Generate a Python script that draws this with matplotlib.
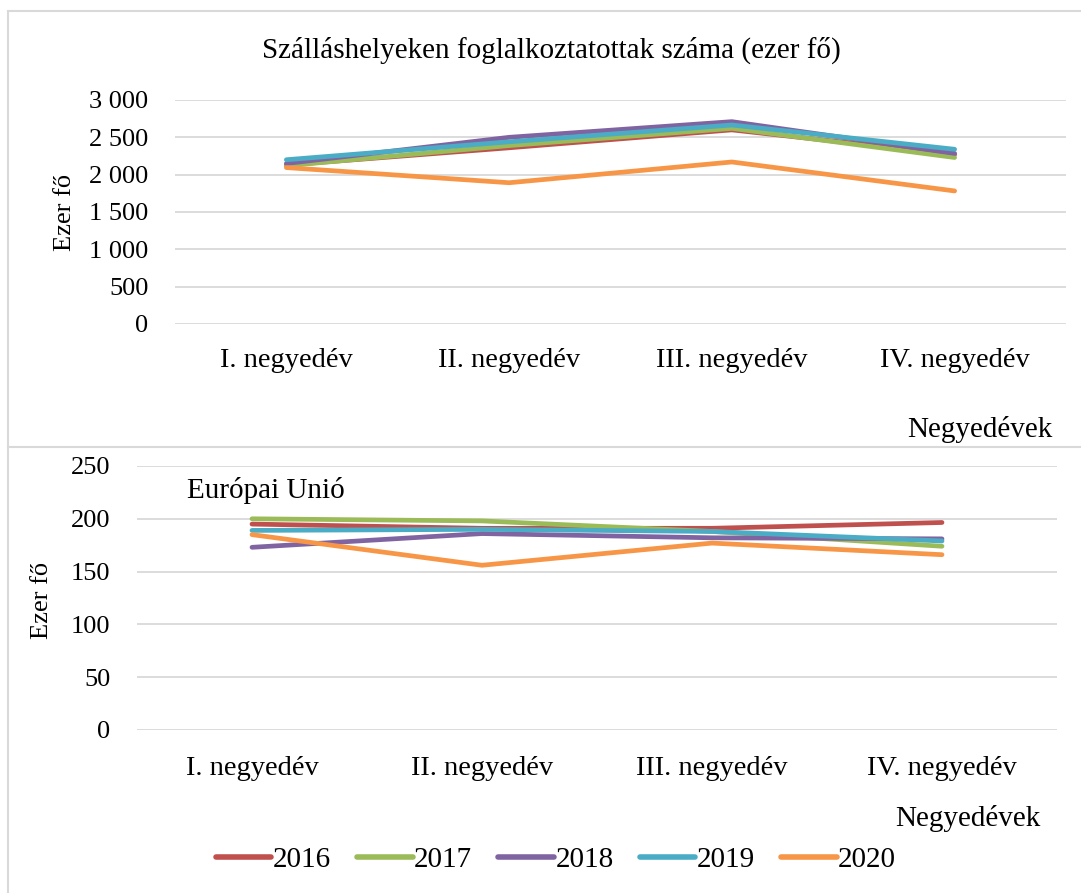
import matplotlib.pyplot as plt
from matplotlib.lines import Line2D
from matplotlib.ticker import FuncFormatter

plt.rcParams["font.family"] = ["Liberation Serif", "DejaVu Serif"]

negyedevek = ["I. negyedév", "II. negyedév", "III. negyedév", "IV. negyedév"]
evek = ["2016", "2017", "2018", "2019", "2020"]
szinek = ["#C0504D", "#9BBB59", "#8064A2", "#4BACC6", "#F79646"]

# Magyarország, ezer fő
hu_2016 = [2130, 2360, 2600, 2270]
hu_2017 = [2120, 2390, 2620, 2230]
hu_2018 = [2150, 2500, 2710, 2285]
hu_2019 = [2200, 2440, 2665, 2340]
hu_2020 = [2095, 1892, 2170, 1782]

# Európai Unió, ezer fő
eu_2016 = [195, 191, 191, 196.5]
eu_2017 = [200, 198, 188, 174]
eu_2018 = [173, 186, 182, 181]
eu_2019 = [189, 190, 188, 179]
eu_2020 = [185, 156, 177, 166]

hu = [hu_2016, hu_2017, hu_2018, hu_2019, hu_2020]
eu = [eu_2016, eu_2017, eu_2018, eu_2019, eu_2020]

racs = "#D9D9D9"
W, H = 1081, 893

fig = plt.figure(figsize=(W / 100, H / 100), dpi=100)

# keretek
fig.add_artist(Line2D([8 / W, 1], [1 - 11 / H, 1 - 11 / H], color=racs, lw=1.5))
fig.add_artist(Line2D([8 / W, 8 / W], [0, 1 - 11 / H], color=racs, lw=1.5))
fig.add_artist(Line2D([8 / W, 1], [1 - 447 / H, 1 - 447 / H], color=racs, lw=1.5))


def tengely(ax, adatok, ymax, lepes, xpad):
    x = range(len(negyedevek))
    for ertekek, szin, ev in zip(adatok, szinek, evek):
        ax.plot(x, ertekek, color=szin, lw=3.4, solid_capstyle="round", label=ev)
    ax.set_xlim(-0.5, len(negyedevek) - 0.5)
    ax.set_ylim(0, ymax)
    ax.set_yticks(range(0, ymax + 1, lepes))
    ax.yaxis.set_major_formatter(FuncFormatter(lambda v, p: f"{int(v):,}".replace(",", " ")))
    ax.set_xticks(list(x))
    ax.set_xticklabels(negyedevek)
    ax.grid(axis="y", color=racs, lw=1.3)
    ax.set_axisbelow(True)
    for s in ax.spines.values():
        s.set_visible(False)
    ax.tick_params(axis="y", length=0, pad=19, labelsize=19)
    ax.tick_params(axis="x", length=0, pad=xpad, labelsize=20.5)


ax1 = fig.add_axes([175 / W, 1 - 324 / H, 891 / W, 224 / H])
tengely(ax1, hu, 3000, 500, 17)
fig.text(551 / W, 1 - 50 / H, "Szálláshelyeken foglalkoztatottak száma (ezer fő)",
         ha="center", va="center", fontsize=21)
fig.text(65 / W, 1 - 212 / H, "Ezer fő", rotation=90, ha="center", va="center", fontsize=19)
fig.text(980 / W, 1 - 430 / H, "Negyedévek", ha="center", va="center", fontsize=21)

ax2 = fig.add_axes([137 / W, 1 - 730 / H, 920 / W, 264 / H])
tengely(ax2, eu, 250, 50, 19)
fig.text(187 / W, 1 - 490 / H, "Európai Unió", ha="left", va="center", fontsize=21)
fig.text(42 / W, 1 - 600 / H, "Ezer fő", rotation=90, ha="center", va="center", fontsize=19)
fig.text(968 / W, 1 - 818 / H, "Negyedévek", ha="center", va="center", fontsize=21)

leg = fig.legend(*ax2.get_legend_handles_labels(), loc="center", bbox_to_anchor=(556 / W, 1 - 860 / H),
                 ncol=5, frameon=False, fontsize=21, handlelength=1.9, handletextpad=0.05,
                 columnspacing=0.9)
for ln in leg.get_lines():
    ln.set_linewidth(4)

fig.savefig("out.png", dpi=100)
